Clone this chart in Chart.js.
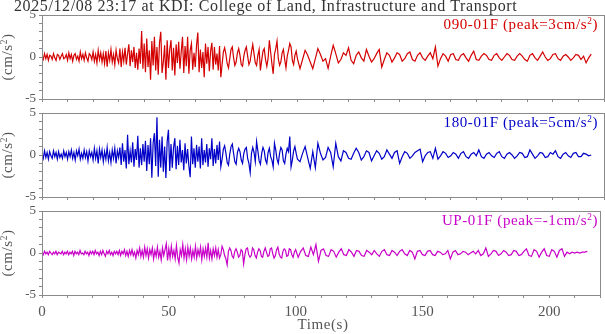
<!DOCTYPE html>
<html><head><meta charset="utf-8">
<script src="https://cdn.jsdelivr.net/npm/chart.js@4.4.1/dist/chart.umd.min.js"></script>
<style>
html,body{margin:0;padding:0;background:#fff;}
#wrap{position:relative;width:605px;height:334px;overflow:hidden;font-family:'Liberation Serif','Times New Roman',serif;}
canvas{position:absolute;left:0;}
.txt{position:absolute;white-space:nowrap;letter-spacing:0.6px;}
.sp{font-size:0.62em;position:relative;top:-0.55em;}
</style></head><body>
<div id="wrap">
<canvas id="c0"></canvas><canvas id="c1"></canvas><canvas id="c2"></canvas>
<div class="txt" style="left:14px;top:-2px;font-size:16px;line-height:16px;color:#333;">2025/12/08 23:17 at KDI: College of Land, Infrastructure and Transport</div>
<div class="txt" style="right:7px;top:17px;font-size:15px;line-height:15px;color:#d40000;">090-01F (peak=3cm/s<span class="sp">2</span>)</div>
<div class="txt" style="right:7px;top:115px;font-size:15px;line-height:15px;color:#0000c8;">180-01F (peak=5cm/s<span class="sp">2</span>)</div>
<div class="txt" style="right:7px;top:213px;font-size:15px;line-height:15px;color:#c800c8;">UP-01F (peak=-1cm/s<span class="sp">2</span>)</div>
<div class="txt yt" style="font-size:15px;line-height:15px;color:#555;left:8px;top:57px;transform:translate(-50%,-50%) rotate(-90deg);">(cm/s<span class="sp">2</span>)</div>
<div class="txt yt" style="font-size:15px;line-height:15px;color:#555;left:8px;top:155px;transform:translate(-50%,-50%) rotate(-90deg);">(cm/s<span class="sp">2</span>)</div>
<div class="txt yt" style="font-size:15px;line-height:15px;color:#555;left:8px;top:253px;transform:translate(-50%,-50%) rotate(-90deg);">(cm/s<span class="sp">2</span>)</div>
<div class="txt" style="left:323px;top:317px;transform:translateX(-50%);font-size:15px;line-height:15px;color:#555;">Time(s)</div>
</div>
<script>
// sample grid: 0..100 s every 0.5 s, then 101..215 s every 1 s
const earlyStep = 0.5, earlyEnd = 100, lateStep = 1, lateEnd = 215;
const times = [];
for (let t = 0; t <= earlyEnd; t += earlyStep) times.push(t);
for (let t = earlyEnd + lateStep; t <= lateEnd; t += lateStep) times.push(t);

const xTickValuesLabeled = [0, 50, 100, 150, 200];
const yTickValuesLabeled = [5, 0, -5];

const acc090 = [
0.1,-0.3,0.4,-0.2,0.3,-0.4,0.2,0.1,-0.3,0.4,-0.1,-0.4,0.3,0.2,-0.3,0.1,0.4,-0.2,-0.1,0.3,
-0.4,0.5,-0.2,0.3,-0.5,0.2,0.4,-0.3,0.1,-0.5,0.6,-0.2,0.3,-0.4,0.5,-0.1,-0.5,0.4,0.2,-0.3,
0.6,-0.5,0.3,-0.7,0.8,-0.3,0.5,-0.6,0.4,-0.8,0.7,-1.15,0.5,-0.4,0.9,-0.6,0.3,-0.9,0.8,-0.2,
-0.7,1.0,-1.2,0.6,-0.5,1.1,-0.9,0.4,1.5,-1.1,0.8,-0.6,1.2,-1.3,0.5,-1.5,1.0,-0.8,3.1,-1.4,
1.6,-1.8,2.2,-1.2,0.8,-2.7,1.9,-1.0,2.4,-1.6,1.2,-2.1,1.7,3.0,-1.9,-0.6,1.4,-2.7,2.0,-1.3,
0.9,2.0,-1.6,1.1,-2.2,1.5,-0.7,1.8,-1.4,0.6,2.4,-1.9,1.3,-1.1,2.4,-2.0,0.8,1.6,-1.5,0.5,
-1.2,1.4,2.9,-1.8,0.9,-1.3,0.6,-2.4,1.6,-0.8,1.2,-1.7,0.7,1.7,-1.5,1.2,-0.9,0.4,-1.6,1.3,
-2.4,-0.9,0.6,1.1,0.3,-0.8,-1.3,-0.2,0.9,1.2,-0.1,-1.0,-0.6,0.5,1.0,0.2,-0.9,-1.1,0.1,0.8,
1.2,0.1,-0.9,-0.5,0.6,1.5,0.4,-0.7,-1.0,0.2,0.9,-1.6,-0.4,0.7,1.0,-0.3,-1.1,-0.2,2.0,0.6,
-0.8,-2.0,0.3,1.0,1.9,-0.2,-1.0,-0.6,0.5,0.9,-0.3,-1.3,0.1,0.8,1.6,1.2,-0.4,-0.9,0.2,0.7,
-0.2,
-1.4,-0.3,0.8,0.2,-0.6,-1.4,-0.2,1.0,0.3,-0.5,
-0.2,-1.35,0.1,1.4,0.4,-0.7,-0.3,0.5,0.2,1.1,
-0.4,-0.8,0.2,0.6,-0.1,-0.5,0.9,0.1,-0.6,-0.2,
0.4,0.9,-1.2,-0.3,0.5,0.2,-0.6,-0.1,0.5,0.3,
-0.5,-0.2,0.4,0.6,-0.3,-0.5,0.2,0.5,-0.1,-0.4,
0.1,0.5,-0.2,1.2,-1.1,-0.2,0.4,0.1,-0.5,0.3,
0.4,-0.3,-0.4,0.2,0.4,-0.1,-0.5,0.2,0.7,-0.3,
-0.4,0.1,0.4,0.2,-0.3,-0.4,0.2,0.4,-0.1,-0.4,
0.0,0.4,0.2,-0.3,-0.4,0.1,0.4,0.1,-0.3,-0.5,
0.2,0.4,-0.1,-0.4,0.1,0.6,0.0,-0.4,-0.2,0.3,
0.4,-0.2,-0.4,0.1,0.3,0.0,-0.4,-0.1,0.3,0.2,
-0.3,0.1,-0.7,-0.1,0.35
];

const acc180 = [
0.2,-0.4,0.5,-0.3,0.3,-0.5,0.4,-0.1,-0.4,0.5,-0.2,0.3,-0.5,0.4,-0.3,0.1,-0.4,0.5,-0.2,0.3,
-0.5,0.4,-0.2,0.6,-0.4,0.3,-0.6,0.5,-0.1,0.7,-0.5,0.2,-0.4,0.6,-0.3,0.4,-0.7,0.5,-0.2,0.3,
-0.6,0.8,-0.4,0.5,-1.0,0.7,-0.3,0.6,-0.8,0.4,-0.5,0.9,-0.7,0.3,-0.9,0.6,-0.4,0.8,-1.0,0.5,
-0.3,0.9,-1.2,1.4,-0.8,0.6,-1.6,2.4,-1.1,0.5,-0.9,1.5,-1.4,0.7,-0.6,2.3,-1.5,0.8,-1.2,1.3,
-0.8,1.7,-1.9,1.2,-1.1,2.0,-2.7,1.4,2.6,-1.3,4.5,-2.6,1.8,-1.5,2.2,-2.0,1.0,-2.75,1.6,3.0,
-1.9,1.3,-1.5,0.9,2.0,-1.7,1.1,-1.2,1.8,-0.9,0.6,-1.8,1.4,-1.0,0.7,-1.3,-2.65,2.2,-1.1,0.8,
-1.5,1.2,-0.8,1.0,-1.6,2.0,-1.2,0.6,-0.9,1.3,-1.4,0.8,-0.5,2.0,-1.3,0.7,-1.0,1.2,-0.6,1.6,
-1.4,-0.5,0.7,1.1,0.2,-0.9,-1.2,0.1,1.0,1.3,0.2,-0.8,-1.1,0.3,0.8,0.4,-0.6,-1.0,0.2,0.7,
0.9,-0.4,-1.0,-2.1,0.2,0.9,0.3,-0.8,1.6,0.5,-0.7,-1.1,0.2,0.9,0.5,-0.6,-1.0,0.3,0.8,-0.2,
-0.6,-1.4,1.4,0.6,-0.5,-1.0,0.2,0.9,0.6,-0.7,-1.0,0.1,0.8,0.4,2.2,-1.4,-0.6,0.5,1.0,0.2,
-0.5,
-0.8,0.2,1.0,-0.3,-1.6,0.4,-1.5,1.4,0.2,-0.6,
-0.3,0.9,0.3,-1.4,1.4,-0.2,-0.7,0.5,0.3,-0.4,
-0.5,0.2,0.8,0.3,-0.6,-0.2,0.5,0.3,-0.7,-0.1,
0.5,0.2,-0.5,-0.2,0.6,0.1,-0.4,0.3,0.5,-1.0,
-0.2,0.4,0.2,-0.4,-0.1,0.3,0.5,0.7,-0.8,-0.1,
0.3,0.4,-0.4,0.8,-0.5,-0.1,0.4,0.2,-0.3,-0.1,
0.3,0.1,-0.4,0.2,0.4,-0.2,-0.4,0.1,0.3,-0.1,
0.6,-0.2,-0.4,0.1,0.3,-0.1,-0.3,0.2,0.4,-0.2,
-0.4,0.1,0.3,0.0,-0.4,-0.1,0.3,0.2,-0.3,-0.2,
0.6,0.1,-0.4,-0.1,0.3,0.2,-0.3,-0.2,0.3,0.1,
0.5,-0.2,-0.4,0.1,0.3,-0.1,-0.3,0.2,0.3,-0.2,
-0.2,0.2,0.1,-0.1,0.0
];

const accUP = [
0.1,-0.2,0.2,-0.1,0.1,-0.2,0.2,0.0,-0.2,0.1,-0.1,0.2,-0.2,0.1,0.0,-0.1,0.2,-0.2,0.1,-0.1,
0.2,-0.2,0.1,-0.1,0.2,-0.3,0.2,-0.1,0.1,-0.2,0.3,-0.1,0.0,-0.2,0.2,-0.1,0.1,-0.3,0.2,-0.1,
0.2,-0.2,0.3,-0.1,0.1,-0.3,0.2,-0.2,0.3,-0.1,-0.4,0.2,-0.1,0.3,-0.2,0.1,-0.3,0.2,-0.1,0.2,
-0.2,0.3,-0.3,0.2,-0.1,0.4,-0.3,0.2,-0.4,0.3,-0.2,0.4,-0.3,0.1,-0.6,0.3,-0.2,0.6,-0.4,0.3,
-0.5,0.7,-0.3,0.5,-0.6,0.4,-0.2,0.6,-0.7,0.3,-0.4,0.7,-0.5,0.2,-0.8,0.6,-0.3,0.4,1.1,-0.9,
0.5,-0.6,0.8,-0.4,0.3,-0.7,0.9,-0.5,-1.2,0.4,-0.3,1.0,-0.6,0.5,-0.8,0.7,-0.4,0.6,-0.7,0.3,
-0.5,0.8,-0.6,0.4,-0.3,0.7,-0.8,0.5,-0.4,0.6,-0.5,1.2,-0.6,0.3,-0.7,0.5,-0.3,0.6,-0.5,0.4,
-0.6,-0.2,0.8,0.4,-0.3,-0.7,-1.4,0.2,0.6,0.3,-0.4,-0.6,0.2,0.5,0.1,-0.5,-0.3,0.4,0.2,-1.3,
-0.2,0.5,0.6,-0.2,-0.5,-0.3,0.6,0.4,-0.3,-0.6,0.1,0.5,0.3,-0.4,-0.5,0.2,0.6,0.1,-0.4,-0.3,
0.5,0.6,-0.1,-0.6,-0.3,0.4,0.7,-0.1,-0.5,-0.6,0.2,0.5,0.3,-0.4,-0.3,0.5,0.4,-0.2,-0.5,0.1,
0.4,
-0.5,0.2,0.6,-0.3,-0.4,0.7,-0.2,1.0,-1.0,0.3,
0.5,-0.3,-0.4,0.4,0.2,-0.5,0.1,0.5,-0.2,-0.3,
0.4,0.1,-0.4,0.3,0.2,-0.3,-0.4,0.3,0.1,-0.2,
0.3,-0.1,-0.4,0.2,0.4,-0.2,-0.3,0.3,0.1,-0.3,
0.2,0.4,-0.1,-0.3,0.3,0.1,-0.7,0.2,0.3,-0.2,
-0.3,0.2,0.3,-0.2,-0.3,0.2,0.1,-0.2,-0.1,0.3,
-0.7,0.1,0.3,-0.2,-0.1,0.2,0.1,-0.2,0.0,0.2,
-0.1,0.3,-0.3,-0.1,0.6,-0.4,-0.1,0.3,0.2,-0.3,
-0.1,0.3,0.1,-0.3,-0.2,0.3,0.2,-0.3,-0.2,0.2,
0.5,-0.3,-0.4,0.4,0.2,-0.5,0.1,0.5,-0.3,-0.4,
0.4,0.2,-0.5,0.3,0.5,-0.4,0.1,-0.1,0.1,0.0,
0.1,0.0,0.1,0.1,0.2
];

const FONT = "'Liberation Serif','Times New Roman',serif";
const AXIS_COLOR = '#8a8a8a';
const panels = [
  {id:'c0', values:acc090, color:'#d40000', top:15, xh:15, showX:false},
  {id:'c1', values:acc180, color:'#0000c8', top:113, xh:15, showX:false},
  {id:'c2', values:accUP,  color:'#c800c8', top:211, xh:25, showX:true}
];
const PANEL_H = 84, PAD_TOP = 14;

const framePlugin = {
  id:'frame',
  afterDraw(chart){
    const a = chart.chartArea, ctx = chart.ctx;
    const al = p => Math.round(p - 0.5) + 0.5;
    ctx.save();
    ctx.strokeStyle = AXIS_COLOR; ctx.lineWidth = 1;
    const l = al(a.left), r = al(a.right), t = al(a.top), b = al(a.bottom);
    ctx.strokeRect(l, t, r - l, b - t);
    ctx.restore();
  }
};

panels.forEach(p => {
  const cv = document.getElementById(p.id);
  const h = PAD_TOP + PANEL_H + p.xh;
  cv.width = 605; cv.height = h;
  cv.style.width = '605px'; cv.style.height = h + 'px';
  cv.style.top = (p.top - PAD_TOP) + 'px';
  new Chart(cv, {
    type:'line',
    data:{datasets:[{
      data: times.map((t,i) => ({x:t, y:p.values[i]})),
      borderColor:p.color, borderWidth:1.2, pointRadius:0, tension:0, fill:false
    }]},
    options:{
      responsive:false, animation:false, events:[],
      layout:{padding:{top:PAD_TOP, left:0, right:1, bottom:0}},
      plugins:{legend:{display:false}, tooltip:{enabled:false}, title:{display:false}},
      scales:{
        x:{
          type:'linear', min:0, max:220,
          afterFit: s => { s.height = p.xh; },
          ticks:{stepSize:10, autoSkip:false, maxRotation:0, display:p.showX, padding:5,
                 color:'#555', font:{family:FONT, size:15},
                 callback: v => xTickValuesLabeled.includes(v) ? String(v) : ''},
          grid:{display:true, drawOnChartArea:false, drawTicks:true, tickLength:3, color:AXIS_COLOR, lineWidth:1},
          border:{display:true, color:AXIS_COLOR, width:1}
        },
        y:{
          min:-5, max:5,
          afterFit: s => { s.width = 42; },
          ticks:{stepSize:1, autoSkip:false, padding:3, color:'#555', font:{family:FONT, size:13},
                 callback: v => yTickValuesLabeled.includes(v) ? String(v) : ''},
          grid:{display:true, drawOnChartArea:false, drawTicks:true, tickLength:3, color:AXIS_COLOR, lineWidth:1},
          border:{display:true, color:AXIS_COLOR, width:1}
        }
      }
    },
    plugins:[framePlugin]
  });
});
</script>
</body></html>
